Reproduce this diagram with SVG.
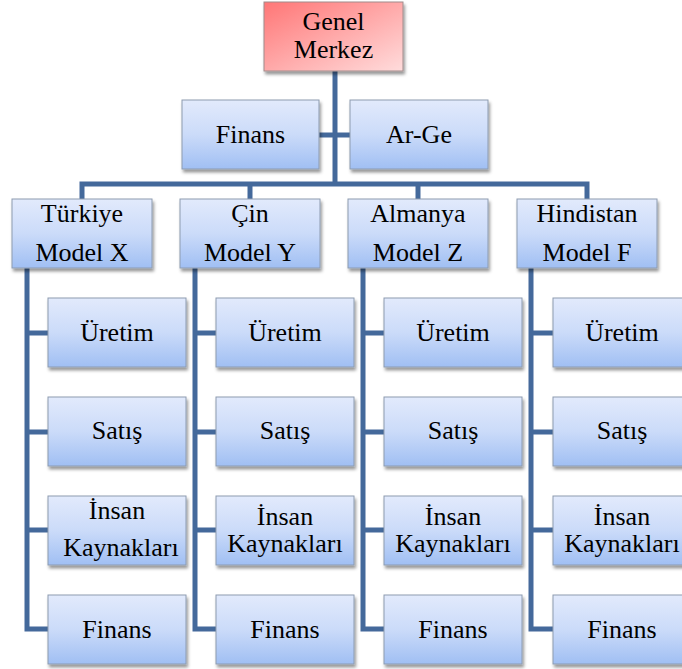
<svg xmlns="http://www.w3.org/2000/svg" width="682" height="669" viewBox="0 0 682 669">
  <defs>
    <linearGradient id="gBlue" x1="0" y1="0" x2="0" y2="1">
      <stop offset="0" stop-color="#e2eafc"/>
      <stop offset="0.5" stop-color="#cbdbf9"/>
      <stop offset="1" stop-color="#a0bff3"/>
    </linearGradient>
    <linearGradient id="gRed" x1="0" y1="0" x2="1" y2="1">
      <stop offset="0" stop-color="#ff7676"/>
      <stop offset="1" stop-color="#ffdcdc"/>
    </linearGradient>
    <filter id="shadow" x="-10%" y="-10%" width="125%" height="135%">
      <feDropShadow dx="1.5" dy="3" stdDeviation="1.8" flood-color="#000" flood-opacity="0.4"/>
    </filter>
  </defs>
  <style>
    .box { fill: url(#gBlue); stroke: #8d9bb0; stroke-width: 1; filter: url(#shadow); }
    .root { fill: url(#gRed); stroke: #a08c8c; stroke-width: 1; filter: url(#shadow); }
    .lbl { font-family: "Liberation Serif", "DejaVu Serif", serif; font-size: 26px; fill: #000; text-anchor: middle; }
    .link { fill: none; stroke: #44699b; stroke-width: 5; stroke-linejoin: miter; stroke-linecap: butt; }
  </style>

  <rect width="682" height="669" fill="#ffffff"/>

  <!-- connectors -->
  <g id="connectors">
    <path class="link" d="M335,71 V184"/>
    <path class="link" d="M319,135 H350"/>
    <path class="link" d="M82,199 V184 H587 V199"/>
    <path class="link" d="M250,184 V199"/>
    <path class="link" d="M418,184 V199"/>
    <!-- branch spines -->
    <path class="link" d="M27,268 V629 H48 M27,333 H48 M27,432 H48 M27,530 H48"/>
    <path class="link" d="M195,268 V629 H216 M195,333 H216 M195,432 H216 M195,530 H216"/>
    <path class="link" d="M363,268 V629 H384 M363,333 H384 M363,432 H384 M363,530 H384"/>
    <path class="link" d="M531,268 V629 H553 M531,333 H553 M531,432 H553 M531,530 H553"/>
  </g>

  <g font-family="Liberation Serif, DejaVu Serif, serif">
  <!-- head office -->
  <g id="genel-merkez">
    <rect class="root" x="264" y="2" width="139" height="69"/>
    <text class="lbl" x="333.5" y="30">Genel</text>
    <text class="lbl" x="333.5" y="58">Merkez</text>
  </g>

  <!-- staff units -->
  <g id="finans-hq">
    <rect class="box" x="182" y="100" width="137" height="69"/>
    <text class="lbl" x="250.5" y="143">Finans</text>
  </g>
  <g id="arge-hq">
    <rect class="box" x="350" y="100" width="138" height="69"/>
    <text class="lbl" x="419" y="143">Ar-Ge</text>
  </g>

  <!-- country divisions -->
  <g id="turkiye">
    <rect class="box" x="12" y="199" width="140" height="69"/>
    <text class="lbl" x="82" y="222">Türkiye</text>
    <text class="lbl" x="82" y="261">Model X</text>
  </g>
  <g id="cin">
    <rect class="box" x="180" y="199" width="140" height="69"/>
    <text class="lbl" x="250" y="222">Çin</text>
    <text class="lbl" x="250" y="261">Model Y</text>
  </g>
  <g id="almanya">
    <rect class="box" x="348" y="199" width="140" height="69"/>
    <text class="lbl" x="418" y="222">Almanya</text>
    <text class="lbl" x="418" y="261">Model Z</text>
  </g>
  <g id="hindistan">
    <rect class="box" x="517" y="199" width="140" height="69"/>
    <text class="lbl" x="587" y="222">Hindistan</text>
    <text class="lbl" x="587" y="261">Model F</text>
  </g>

  <!-- Türkiye departments -->
  <g id="turkiye-uretim">
    <rect class="box" x="48" y="298" width="138" height="69"/>
    <text class="lbl" x="117" y="341">Üretim</text>
  </g>
  <g id="turkiye-satis">
    <rect class="box" x="48" y="397" width="138" height="69"/>
    <text class="lbl" x="117" y="439">Satış</text>
  </g>
  <g id="turkiye-ik">
    <rect class="box" x="48" y="496" width="138" height="69"/>
    <text class="lbl" x="117" y="519">İnsan</text>
    <text class="lbl" x="121" y="556">Kaynakları</text>
  </g>
  <g id="turkiye-finans">
    <rect class="box" x="48" y="595" width="138" height="69"/>
    <text class="lbl" x="117" y="638">Finans</text>
  </g>

  <!-- Çin departments -->
  <g id="cin-uretim">
    <rect class="box" x="216" y="298" width="138" height="69"/>
    <text class="lbl" x="285" y="341">Üretim</text>
  </g>
  <g id="cin-satis">
    <rect class="box" x="216" y="397" width="138" height="69"/>
    <text class="lbl" x="285" y="439">Satış</text>
  </g>
  <g id="cin-ik">
    <rect class="box" x="216" y="496" width="138" height="69"/>
    <text class="lbl" x="285" y="525">İnsan</text>
    <text class="lbl" x="285" y="552">Kaynakları</text>
  </g>
  <g id="cin-finans">
    <rect class="box" x="216" y="595" width="138" height="69"/>
    <text class="lbl" x="285" y="638">Finans</text>
  </g>

  <!-- Almanya departments -->
  <g id="almanya-uretim">
    <rect class="box" x="384" y="298" width="138" height="69"/>
    <text class="lbl" x="453" y="341">Üretim</text>
  </g>
  <g id="almanya-satis">
    <rect class="box" x="384" y="397" width="138" height="69"/>
    <text class="lbl" x="453" y="439">Satış</text>
  </g>
  <g id="almanya-ik">
    <rect class="box" x="384" y="496" width="138" height="69"/>
    <text class="lbl" x="453" y="525">İnsan</text>
    <text class="lbl" x="453" y="552">Kaynakları</text>
  </g>
  <g id="almanya-finans">
    <rect class="box" x="384" y="595" width="138" height="69"/>
    <text class="lbl" x="453" y="638">Finans</text>
  </g>

  <!-- Hindistan departments -->
  <g id="hindistan-uretim">
    <rect class="box" x="553" y="298" width="138" height="69"/>
    <text class="lbl" x="622" y="341">Üretim</text>
  </g>
  <g id="hindistan-satis">
    <rect class="box" x="553" y="397" width="138" height="69"/>
    <text class="lbl" x="622" y="439">Satış</text>
  </g>
  <g id="hindistan-ik">
    <rect class="box" x="553" y="496" width="138" height="69"/>
    <text class="lbl" x="622" y="525">İnsan</text>
    <text class="lbl" x="622" y="552">Kaynakları</text>
  </g>
  <g id="hindistan-finans">
    <rect class="box" x="553" y="595" width="138" height="69"/>
    <text class="lbl" x="622" y="638">Finans</text>
  </g>
  </g>
</svg>
